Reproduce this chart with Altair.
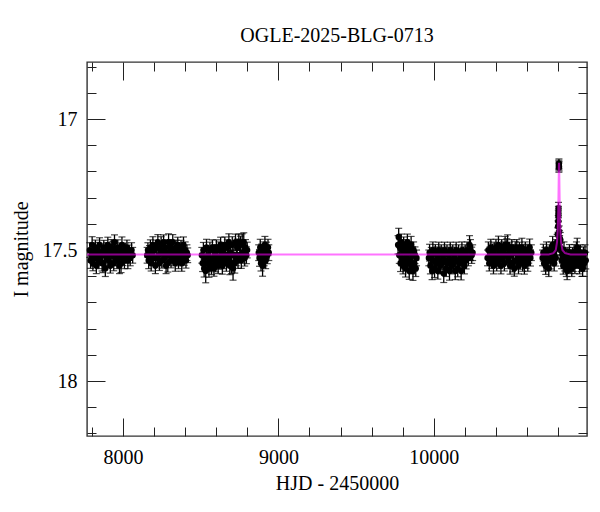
import altair as alt
import pandas as pd

TITLE = "OGLE-2025-BLG-0713"
X_TITLE = "HJD - 2450000"
Y_TITLE = "I magnitude"
X_DOMAIN = [7768, 10986]
Y_DOMAIN = [16.782, 18.21]
X_MAJOR = [8000, 9000, 10000]
X_MINOR = [7800, 8200, 8400, 8600, 8800, 9200, 9400, 9600, 9800, 10200, 10400, 10600, 10800]
Y_MAJOR = [17.0, 17.5, 18.0]
Y_MINOR = [16.8, 16.9, 17.1, 17.2, 17.3, 17.4, 17.6, 17.7, 17.8, 17.9, 18.1, 18.2]

# (HJD-2450000, I mag, error)
season_1 = [(7786,17.50,.028),(7791,17.54,.030),(7796,17.52,.026),(7801,17.48,.031),(7806,17.55,.029),(7812,17.51,.027),(7817,17.53,.032),(7822,17.49,.028),(7828,17.56,.030),(7833,17.52,.026),(7838,17.50,.029),(7844,17.54,.031),(7849,17.48,.027),(7854,17.53,.028),(7860,17.51,.033),(7865,17.55,.030),(7870,17.55,.036),(7876,17.49,.027),(7881,17.52,.029),(7886,17.57,.031),(7892,17.50,.028),(7897,17.53,.030),(7902,17.48,.029),(7908,17.54,.027),(7913,17.51,.031),(7918,17.56,.028),(7924,17.49,.030),(7929,17.52,.027),(7934,17.50,.032),(7940,17.55,.029),(7945,17.47,.028),(7950,17.53,.030),(7956,17.51,.027),(7961,17.54,.031),(7966,17.49,.029),(7972,17.52,.028),(7977,17.56,.030),(7982,17.50,.027),(7987,17.55,.036),(7993,17.48,.030),(7998,17.53,.029),(8003,17.51,.028),(8009,17.54,.031),(8014,17.50,.027),(8019,17.52,.030),(8025,17.49,.028),(8031,17.54,.031),(8038,17.51,.029),(8046,17.53,.030),(8055,17.50,.028),(8062,17.52,.030)]
season_2 = [(8155,17.52,.030),(8160,17.50,.028),(8165,17.54,.031),(8170,17.51,.027),(8176,17.49,.029),(8181,17.55,.030),(8186,17.52,.028),(8192,17.48,.031),(8197,17.53,.029),(8202,17.50,.027),(8208,17.56,.030),(8213,17.49,.028),(8218,17.53,.031),(8224,17.47,.029),(8229,17.52,.030),(8234,17.55,.028),(8240,17.50,.027),(8245,17.48,.031),(8250,17.54,.029),(8256,17.51,.030),(8261,17.47,.028),(8266,17.53,.031),(8272,17.49,.029),(8277,17.56,.030),(8282,17.51,.027),(8288,17.55,.034),(8293,17.47,.032),(8298,17.52,.029),(8304,17.49,.030),(8309,17.54,.028),(8314,17.50,.031),(8320,17.47,.029),(8325,17.53,.030),(8330,17.51,.027),(8336,17.55,.031),(8341,17.49,.028),(8346,17.52,.030),(8352,17.48,.029),(8357,17.54,.031),(8362,17.50,.028),(8368,17.53,.030),(8373,17.49,.027),(8378,17.55,.031),(8384,17.51,.029),(8389,17.48,.030),(8394,17.53,.028),(8400,17.50,.031),(8405,17.54,.029),(8411,17.51,.030),(8416,17.52,.028)]
season_3 = [(8507,17.52,.030),(8512,17.55,.032),(8517,17.50,.029),(8522,17.57,.033),(8527,17.53,.030),(8532,17.58,.045),(8537,17.49,.031),(8543,17.55,.032),(8548,17.52,.029),(8553,17.57,.034),(8559,17.50,.030),(8564,17.54,.031),(8569,17.56,.033),(8575,17.49,.029),(8580,17.53,.032),(8585,17.57,.030),(8591,17.51,.031),(8596,17.55,.033),(8601,17.49,.029),(8607,17.53,.032),(8612,17.56,.030),(8617,17.50,.031),(8623,17.54,.033),(8628,17.48,.029),(8633,17.52,.030),(8639,17.56,.032),(8644,17.50,.029),(8649,17.54,.031),(8655,17.48,.030),(8660,17.52,.033),(8665,17.55,.031),(8671,17.49,.029),(8676,17.53,.030),(8681,17.47,.032),(8687,17.56,.034),(8692,17.51,.030),(8697,17.55,.040),(8703,17.48,.031),(8708,17.57,.045),(8713,17.52,.030),(8719,17.55,.038),(8724,17.47,.031),(8729,17.53,.030),(8735,17.49,.032),(8740,17.54,.030),(8745,17.47,.031),(8751,17.52,.029),(8756,17.48,.033),(8761,17.54,.030),(8767,17.47,.032),(8772,17.51,.030),(8777,17.47,.036),(8783,17.53,.031),(8788,17.49,.030),(8794,17.52,.032),(8799,17.50,.030)]
season_4 = [(8873,17.51,.030),(8878,17.53,.032),(8883,17.49,.031),(8888,17.55,.030),(8893,17.51,.033),(8898,17.56,.040),(8903,17.50,.031),(8908,17.53,.030),(8913,17.48,.032),(8918,17.54,.031),(8923,17.50,.030),(8928,17.52,.032),(8933,17.49,.031),(8938,17.51,.030)]
season_5 = [(9770,17.48,.035),(9774,17.45,.033),(9778,17.52,.031),(9782,17.49,.030),(9786,17.55,.032),(9790,17.47,.031),(9794,17.53,.030),(9798,17.50,.033),(9802,17.56,.031),(9806,17.48,.030),(9810,17.54,.032),(9814,17.51,.031),(9818,17.57,.033),(9822,17.49,.030),(9826,17.53,.032),(9830,17.47,.031),(9834,17.55,.030),(9838,17.51,.033),(9842,17.58,.032),(9846,17.50,.031),(9850,17.54,.030),(9854,17.48,.032),(9858,17.56,.031),(9862,17.52,.033),(9866,17.58,.036),(9870,17.50,.031),(9874,17.55,.030),(9879,17.52,.032),(9884,17.57,.031),(9889,17.53,.030)]
season_6 = [(9968,17.53,.030),(9973,17.51,.032),(9978,17.56,.031),(9984,17.52,.030),(9989,17.58,.033),(9994,17.50,.031),(10000,17.54,.030),(10005,17.57,.035),(10010,17.51,.031),(10016,17.55,.030),(10021,17.52,.032),(10026,17.58,.031),(10032,17.50,.030),(10037,17.54,.033),(10042,17.56,.031),(10048,17.51,.030),(10053,17.55,.032),(10058,17.52,.031),(10064,17.59,.034),(10069,17.50,.030),(10074,17.54,.032),(10080,17.57,.031),(10085,17.51,.030),(10090,17.55,.033),(10096,17.52,.031),(10101,17.58,.035),(10106,17.50,.030),(10112,17.54,.032),(10117,17.56,.031),(10122,17.51,.030),(10128,17.55,.032),(10133,17.52,.031),(10138,17.58,.033),(10144,17.50,.030),(10149,17.54,.031),(10154,17.57,.032),(10160,17.51,.030),(10165,17.55,.031),(10170,17.53,.030),(10176,17.58,.034),(10181,17.50,.031),(10186,17.54,.030),(10192,17.52,.032),(10197,17.56,.031),(10202,17.51,.030),(10208,17.54,.032),(10214,17.50,.031),(10222,17.53,.030),(10230,17.48,.035),(10236,17.50,.040),(10244,17.52,.031),(10250,17.51,.030)]
season_7 = [(10346,17.53,.030),(10351,17.50,.031),(10357,17.55,.030),(10362,17.52,.032),(10367,17.49,.031),(10373,17.54,.030),(10378,17.51,.033),(10384,17.56,.031),(10389,17.50,.030),(10394,17.53,.032),(10400,17.49,.031),(10405,17.55,.030),(10410,17.52,.031),(10416,17.48,.033),(10421,17.54,.030),(10427,17.51,.032),(10432,17.56,.031),(10437,17.49,.030),(10443,17.53,.032),(10448,17.50,.031),(10454,17.55,.030),(10459,17.48,.032),(10464,17.52,.031),(10470,17.49,.033),(10475,17.48,.038),(10480,17.54,.031),(10486,17.50,.030),(10491,17.56,.032),(10497,17.52,.031),(10502,17.49,.030),(10507,17.55,.033),(10513,17.51,.031),(10518,17.57,.030),(10524,17.50,.032),(10529,17.54,.031),(10534,17.49,.030),(10540,17.52,.032),(10545,17.56,.031),(10551,17.50,.030),(10556,17.54,.033),(10561,17.51,.031),(10567,17.49,.035),(10572,17.55,.031),(10578,17.52,.030),(10583,17.56,.032),(10589,17.50,.031),(10594,17.54,.030),(10600,17.51,.032),(10605,17.55,.031),(10611,17.52,.030),(10617,17.49,.032),(10622,17.53,.031),(10628,17.51,.030)]
season_8 = [(10700,17.53,.030),(10705,17.51,.032),(10710,17.55,.031),(10715,17.52,.030),(10720,17.56,.033),(10725,17.50,.031),(10730,17.54,.030),(10735,17.52,.032),(10740,17.57,.031),(10745,17.51,.030),(10750,17.54,.032),(10755,17.50,.031),(10760,17.53,.030),(10765,17.48,.032),(10770,17.52,.031),(10775,17.55,.030),(10780,17.50,.032),(10785,17.53,.031),(10790,17.49,.030),(10794,17.47,.030),
            (10798,17.44,.025),(10800,17.41,.022),(10801,17.39,.022),(10801.5,17.37,.022),(10802,17.355,.022),(10802.5,17.34,.022),(10804.5,17.175,.018),(10805,17.185,.018),(10805.5,17.17,.018),(10806,17.18,.018),(10807,17.43,.022),(10808,17.45,.025),(10810,17.47,.025),(10812,17.49,.028),(10814,17.46,.027),
            (10818,17.50,.030),(10823,17.54,.031),(10828,17.52,.030),(10833,17.56,.032),(10838,17.50,.031),(10843,17.55,.030),(10848,17.53,.032),(10853,17.57,.031),(10858,17.58,.033),(10863,17.52,.030),(10868,17.55,.032),(10873,17.51,.031),(10878,17.56,.030),(10883,17.53,.032),(10888,17.57,.031),(10893,17.52,.030),(10898,17.55,.032),(10903,17.51,.031),(10908,17.56,.030),(10913,17.53,.032),(10918,17.50,.031),(10923,17.49,.035),(10928,17.54,.030),(10933,17.52,.032),(10938,17.56,.031),(10943,17.51,.030),(10948,17.55,.032),(10953,17.53,.031),(10958,17.57,.030),(10963,17.52,.032),(10968,17.55,.031),(10973,17.51,.030),(10978,17.54,.032)]

model_t = [7768, 10740, 10770, 10785, 10793, 10798, 10801, 10803, 10805, 10806, 10807, 10809, 10811, 10814, 10819, 10828, 10845, 10880, 10986]
model_mag = [17.517, 17.517, 17.512, 17.50, 17.47, 17.42, 17.35, 17.27, 17.18, 17.167, 17.18, 17.27, 17.35, 17.42, 17.47, 17.50, 17.512, 17.517, 17.517]

rows = []
for s in [season_1, season_2, season_3, season_4, season_5, season_6, season_7, season_8]:
    for t, m, e in s:
        rows.append({"t": t, "mag": m, "lo": m - e, "hi": m + e})
df = pd.DataFrame(rows)
model = pd.DataFrame({"t": model_t, "mag": model_mag})

FONT = "Liberation Serif"
xs = alt.Scale(domain=X_DOMAIN, nice=False, zero=False)
ys = alt.Scale(domain=Y_DOMAIN, reverse=True, nice=False, zero=False)


def axis(orient, values, size, labels=False, title=None, label_expr=None, pad=0, lpad=0):
    kw = dict(orient=orient, values=values, tickSize={"expr": str(-size)}, labels=labels,
              domain=False, grid=False, tickColor="#222222", tickWidth=1,
              labelFont=FONT, labelFontSize=20, labelColor="black",
              titleFont=FONT, titleFontSize=20, titleFontWeight="normal", titleColor="black")
    if title is not None:
        kw["title"] = title
        kw["titlePadding"] = pad
    else:
        kw["title"] = None
    if label_expr is not None:
        kw["labelExpr"] = label_expr
    if labels:
        kw["labelPadding"] = lpad
    return alt.Axis(**kw)


base = alt.Chart(df)

rules = base.mark_rule(color="black", strokeWidth=1.3).encode(
    x=alt.X("t:Q", scale=xs, axis=axis("bottom", X_MAJOR, 18, labels=True, title=X_TITLE,
                                        label_expr="format(datum.value, 'd')", pad=6, lpad=29)),
    y=alt.Y("lo:Q", scale=ys, axis=axis("left", Y_MAJOR, 18, labels=True, title=Y_TITLE,
                                         label_expr="datum.value % 1 == 0 ? format(datum.value, 'd') : format(datum.value, '.1f')",
                                         pad=11, lpad=28)),
    y2="hi:Q",
)
caps_lo = base.mark_tick(orient="horizontal", size=7, thickness=1.2, color="black").encode(
    x=alt.X("t:Q", scale=xs, axis=axis("bottom", X_MINOR, 9)),
    y=alt.Y("lo:Q", scale=ys, axis=axis("left", Y_MINOR, 9)),
)
caps_hi = base.mark_tick(orient="horizontal", size=7, thickness=1.2, color="black").encode(
    x=alt.X("t:Q", scale=xs, axis=axis("top", X_MAJOR, 18)),
    y=alt.Y("hi:Q", scale=ys, axis=axis("right", Y_MAJOR, 18)),
)
points = base.mark_circle(size=40, color="black", opacity=1).encode(
    x=alt.X("t:Q", scale=xs, axis=axis("top", X_MINOR, 9)),
    y=alt.Y("mag:Q", scale=ys, axis=axis("right", Y_MINOR, 9)),
)
line = alt.Chart(model).mark_line(color="#ff00ff", strokeWidth=2, opacity=0.55).encode(
    x=alt.X("t:Q", scale=xs, axis=None),
    y=alt.Y("mag:Q", scale=ys, axis=None),
)

chart = alt.layer(rules, caps_lo, caps_hi, points, line).resolve_axis(
    x="independent", y="independent"
).properties(
    width=500, height=374,
    autosize=alt.AutoSizeParams(type="none"),
    padding={"left": 79, "top": 54, "right": 5, "bottom": 68},
    title=alt.TitleParams(TITLE, font=FONT, fontSize=20, fontWeight="normal", color="black",
                          anchor="middle", offset=16),
).configure_view(stroke="#333333", strokeWidth=1.4)

chart.save("out.html", embed_options={"renderer": "svg", "actions": False})
